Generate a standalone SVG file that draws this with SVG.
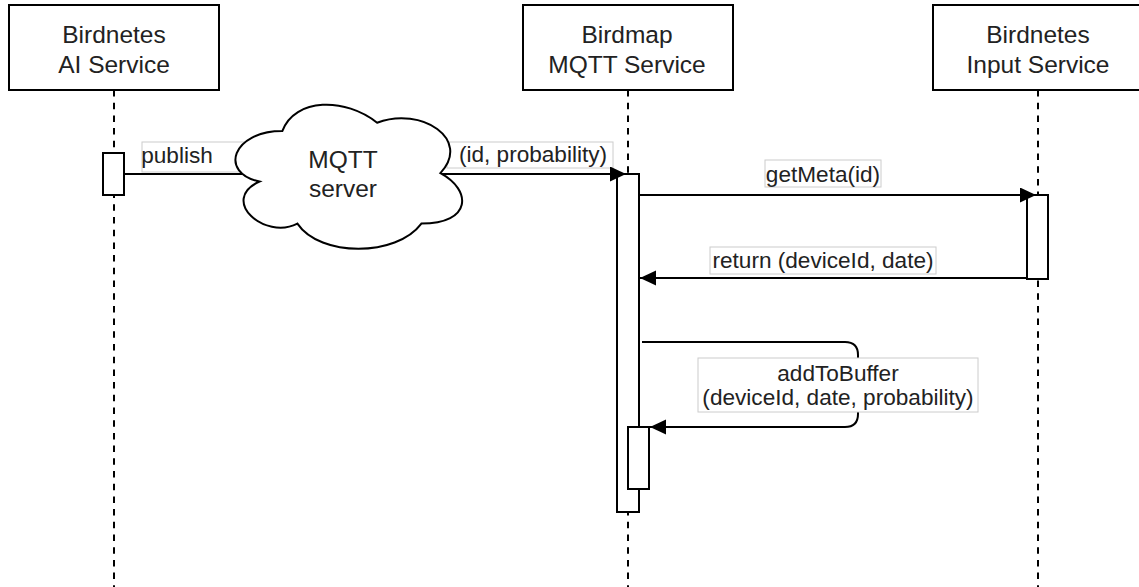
<svg xmlns="http://www.w3.org/2000/svg" width="1139" height="587" viewBox="0 0 1139 587">
<style>
.box{fill:#fff;stroke:#000;stroke-width:2}
.act{fill:#fff;stroke:#000;stroke-width:2}
.life{stroke:#000;stroke-width:2;stroke-dasharray:6.5 6.2;fill:none}
.msg{stroke:#000;stroke-width:2;fill:none}
.lbl{fill:#fff;stroke:#cccccc;stroke-width:1}
.t{font-family:"Liberation Sans",Arial,sans-serif;fill:#222;text-anchor:middle}
.h{font-size:24.5px}
.m{font-size:22.6px}
</style>
<defs>
<marker id="arr" markerUnits="userSpaceOnUse" markerWidth="17" markerHeight="16" refX="16" refY="7.5" orient="auto">
<path d="M0,0 L16,7.5 L0,15 Z" fill="#000"/>
</marker>
</defs>
<g id="lifelines">
<line class="life" x1="114" y1="90" x2="114" y2="587"/>
<line class="life" x1="628" y1="90" x2="628" y2="587"/>
<line class="life" x1="1038" y1="90" x2="1038" y2="587"/>
</g>
<g id="ai-service">
<rect class="box" x="9" y="5" width="210" height="85"/>
<text class="t h" x="114" y="43">Birdnetes</text>
<text class="t h" x="114" y="72.5">AI Service</text>
</g>
<g id="mqtt-service">
<rect class="box" x="523" y="5" width="210" height="85"/>
<text class="t h" x="627" y="43">Birdmap</text>
<text class="t h" x="627" y="72.5">MQTT Service</text>
</g>
<g id="input-service">
<rect class="box" x="933" y="5" width="210" height="85"/>
<text class="t h" x="1038" y="43">Birdnetes</text>
<text class="t h" x="1038" y="72.5">Input Service</text>
</g>
<g id="activations">
<rect id="act-ai" class="act" x="103" y="153" width="21" height="42"/>
<rect id="act-mqtt" class="act" x="617" y="174" width="22" height="338"/>
<rect id="act-mqtt-inner" class="act" x="628" y="427" width="21" height="62"/>
<rect id="act-input" class="act" x="1027" y="195" width="21" height="84"/>
</g>
<g id="connectors">
<rect class="lbl" x="142" y="142" width="106" height="30"/>
<text class="t m" x="177" y="163">publish</text>
<line class="msg" x1="124" y1="174" x2="242" y2="174"/>
<rect class="lbl" x="447" y="142" width="166" height="26"/>
<text class="t m" x="533" y="162">(id, probability)</text>
<line class="msg" x1="441" y1="174" x2="626" y2="174" marker-end="url(#arr)"/>
<line class="msg" x1="640" y1="195" x2="1036" y2="195" marker-end="url(#arr)"/>
<rect class="lbl" x="765" y="160" width="116" height="27"/>
<text class="t m" x="823" y="182">getMeta(id)</text>
<line class="msg" x1="1027" y1="278" x2="640" y2="278" marker-end="url(#arr)"/>
<rect class="lbl" x="710" y="247" width="226" height="27"/>
<text class="t m" x="823" y="268">return (deviceId, date)</text>
<path class="msg" d="M642,342 H845 Q858,342 858,355 V414 Q858,427 845,427 H650" marker-end="url(#arr)"/>
<rect class="lbl" x="698" y="358" width="280" height="54"/>
<text class="t m" x="838" y="381">addToBuffer</text>
<text class="t m" x="838" y="405">(deviceId, date, probability)</text>
</g>
<g id="mqtt-server">
<path d="M282.3,131.1 C231.7,131.1 219,173.1 259.5,181.5 C219,200 264.5,240.4 297.4,223.6 C320.2,257.2 396.1,257.2 421.4,223.6 C472,223.6 472,190 440.4,173.1 C472,139.5 421.4,105.9 377.1,122.7 C345.5,97.5 294.9,97.5 282.3,131.1 Z" fill="#fff" stroke="#000" stroke-width="2"/>
<text class="t h" x="343" y="168">MQTT</text>
<text class="t h" x="343" y="197">server</text>
</g>
</svg>
